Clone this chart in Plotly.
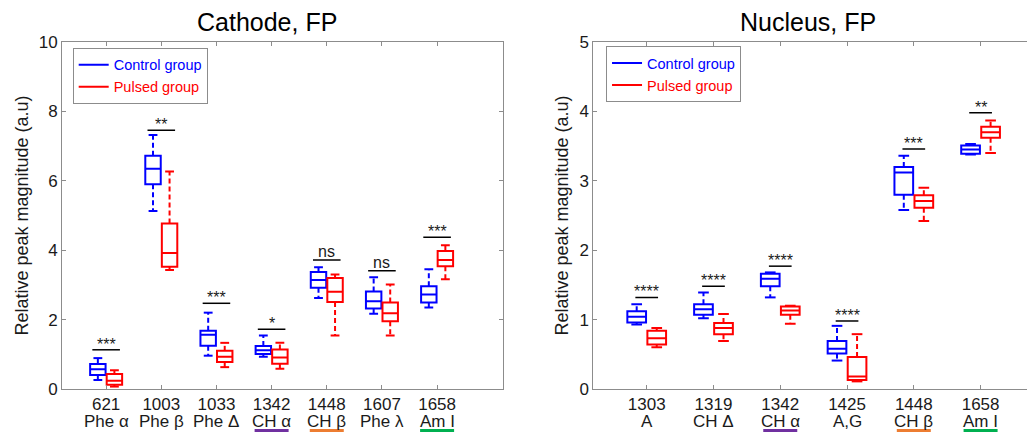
import plotly.graph_objects as go

# ---------------- data ----------------
# Cathode, FP
cat_num = ["621", "1003", "1033", "1342", "1448", "1607", "1658"]
cat_name = ["Phe α", "Phe β", "Phe Δ", "CH α", "CH β", "Phe λ", "Am I"]
cat_ctrl_lo = [0.26, 5.13, 0.96, 0.93, 2.62, 2.17, 2.35]
cat_ctrl_q1 = [0.40, 5.90, 1.25, 1.01, 2.92, 2.32, 2.49]
cat_ctrl_med = [0.57, 6.35, 1.56, 1.12, 3.14, 2.53, 2.72]
cat_ctrl_q3 = [0.72, 6.72, 1.68, 1.24, 3.37, 2.81, 2.96]
cat_ctrl_hi = [0.89, 7.32, 2.20, 1.54, 3.51, 3.22, 3.45]
cat_puls_lo = [0.07, 3.43, 0.63, 0.58, 1.54, 1.54, 3.16]
cat_puls_q1 = [0.12, 3.52, 0.78, 0.73, 2.51, 1.95, 3.54]
cat_puls_med = [0.24, 3.92, 0.93, 0.91, 2.80, 2.18, 3.72]
cat_puls_q3 = [0.43, 4.77, 1.10, 1.14, 3.20, 2.49, 3.98]
cat_puls_hi = [0.54, 6.27, 1.33, 1.33, 3.30, 3.01, 4.14]
cat_sig = ["***", "**", "***", "*", "ns", "ns", "***"]
cat_sig_y = [1.13, 7.46, 2.47, 1.72, 3.72, 3.41, 4.37]
cat_mark = [None, None, None, "#7030A0", "#ED7D31", None, "#00B050"]

# Nucleus, FP
nuc_num = ["1303", "1319", "1342", "1425", "1448", "1658"]
nuc_name = ["A", "CH Δ", "CH α", "A,G", "CH β", "Am I"]
nuc_ctrl_lo = [0.93, 1.02, 1.32, 0.41, 2.58, 3.38]
nuc_ctrl_q1 = [0.96, 1.07, 1.48, 0.51, 2.80, 3.39]
nuc_ctrl_med = [1.04, 1.15, 1.59, 0.58, 3.12, 3.45]
nuc_ctrl_q3 = [1.12, 1.22, 1.66, 0.69, 3.20, 3.51]
nuc_ctrl_hi = [1.22, 1.39, 1.68, 0.91, 3.36, 3.53]
nuc_puls_lo = [0.60, 0.69, 0.94, 0.11, 2.42, 3.40]
nuc_puls_q1 = [0.64, 0.79, 1.07, 0.13, 2.61, 3.62]
nuc_puls_med = [0.73, 0.88, 1.13, 0.18, 2.71, 3.70]
nuc_puls_q3 = [0.84, 0.95, 1.19, 0.46, 2.79, 3.78]
nuc_puls_hi = [0.88, 1.08, 1.20, 0.79, 2.90, 3.87]
nuc_sig = ["****", "****", "****", "****", "***", "**"]
nuc_sig_y = [1.32, 1.48, 1.77, 0.98, 3.46, 3.98]
nuc_mark = [None, None, "#7030A0", None, "#ED7D31", "#00B050"]

titles = ["Cathode, FP", "Nucleus, FP"]
ytitle = "Relative peak magnitude (a.u)"
groups = ["Control group", "Pulsed group"]
colors = ["#0000FF", "#FF0000"]

# ---------------- style ----------------
FONT = "Liberation Sans, Arial, sans-serif"
AX = "#8c8c8c"
TXT = "#1a1a1a"
OFF = 0.15
BOXW = 0.28
CAPW = 0.08

fig = go.Figure()
# page body has an 8px margin; size the figure so it fits the 1035x433 window
fig.update_layout(
    width=1027, height=425,
    margin=dict(l=54, r=1, t=34, b=44),
    paper_bgcolor="white", plot_bgcolor="white",
    font=dict(family=FONT, size=17, color=TXT),
    showlegend=True,
    boxmode="overlay",
)

panels = [
    dict(xa="x", ya="y", num=cat_num, name=cat_name, mark=cat_mark,
         data=[(cat_ctrl_lo, cat_ctrl_q1, cat_ctrl_med, cat_ctrl_q3, cat_ctrl_hi),
               (cat_puls_lo, cat_puls_q1, cat_puls_med, cat_puls_q3, cat_puls_hi)],
         sig=cat_sig, sig_y=cat_sig_y, sighalf=0.25, legend="legend"),
    dict(xa="x2", ya="y2", num=nuc_num, name=nuc_name, mark=nuc_mark,
         data=[(nuc_ctrl_lo, nuc_ctrl_q1, nuc_ctrl_med, nuc_ctrl_q3, nuc_ctrl_hi),
               (nuc_puls_lo, nuc_puls_q1, nuc_puls_med, nuc_puls_q3, nuc_puls_hi)],
         sig=nuc_sig, sig_y=nuc_sig_y, sighalf=0.17, legend="legend2"),
]

annotations = []
shapes = []
for pi, p in enumerate(panels):
    n = len(p["num"])
    pos = list(range(1, n + 1))
    for gi, (lo, q1, med, q3, hi) in enumerate(p["data"]):
        sgn = -1 if gi == 0 else 1
        xs = [v + sgn * OFF for v in pos]
        col = colors[gi]
        fig.add_trace(go.Box(
            x=xs, q1=q1, median=med, q3=q3, lowerfence=q1, upperfence=q3,
            width=BOXW, whiskerwidth=0, boxpoints=False,
            line=dict(color=col, width=2), fillcolor="rgba(0,0,0,0)",
            xaxis=p["xa"], yaxis=p["ya"], showlegend=False, hoverinfo="skip"))
        wx, wy, cx, cy = [], [], [], []
        for i in range(n):
            wx += [xs[i], xs[i], None, xs[i], xs[i], None]
            wy += [q3[i], hi[i], None, q1[i], lo[i], None]
            cx += [xs[i] - CAPW, xs[i] + CAPW, None, xs[i] - CAPW, xs[i] + CAPW, None]
            cy += [hi[i], hi[i], None, lo[i], lo[i], None]
        fig.add_trace(go.Scatter(x=wx, y=wy, mode="lines",
                                 line=dict(color=col, width=2, dash="5px,3px"),
                                 xaxis=p["xa"], yaxis=p["ya"], showlegend=False, hoverinfo="skip"))
        fig.add_trace(go.Scatter(x=cx, y=cy, mode="lines",
                                 line=dict(color=col, width=2),
                                 xaxis=p["xa"], yaxis=p["ya"], showlegend=False, hoverinfo="skip"))
        # legend entry
        fig.add_trace(go.Scatter(x=[None], y=[None], mode="lines",
                                 line=dict(color=col, width=2),
                                 name=f"<span style='color:{col}'>{groups[gi]}</span>",
                                 legend=p["legend"], xaxis=p["xa"], yaxis=p["ya"]))
    # significance bars
    sx, sy = [], []
    h = p["sighalf"]
    for i in range(n):
        sx += [pos[i] - h, pos[i] + h, None]
        sy += [p["sig_y"][i], p["sig_y"][i], None]
        annotations.append(dict(x=pos[i], y=p["sig_y"][i], xref=p["xa"], yref=p["ya"],
                                text=p["sig"][i], showarrow=False, yanchor="bottom",
                                yshift=(-5 if "*" in p["sig"][i] else -2),
                                font=dict(size=16, color=TXT)))
        annotations.append(dict(x=pos[i], y=0, xref=p["xa"], yref=p["ya"] + " domain",
                                text=p["name"][i], showarrow=False, yanchor="middle",
                                yshift=-32, font=dict(size=17, color=TXT)))
        if p["mark"][i]:
            shapes.append(dict(type="rect", xref=p["xa"], yref=p["ya"] + " domain",
                               xsizemode="pixel", ysizemode="pixel",
                               xanchor=pos[i], yanchor=0,
                               x0=-17, x1=17, y0=-43, y1=-40,
                               fillcolor=p["mark"][i], line=dict(width=0)))
    fig.add_trace(go.Scatter(x=sx, y=sy, mode="lines", line=dict(color="black", width=1.5),
                             xaxis=p["xa"], yaxis=p["ya"], showlegend=False, hoverinfo="skip"))

axis_common = dict(showgrid=False, zeroline=False, showline=True, linecolor=AX, linewidth=1,
                   mirror="ticks", ticks="inside", ticklen=4, tickcolor=AX,
                   tickfont=dict(size=17, color=TXT))
fig.update_layout(
    xaxis=dict(domain=[0, 0.454], range=[0.2, 8.2], tickvals=list(range(1, 8)),
               ticktext=cat_num, anchor="y", **axis_common),
    yaxis=dict(domain=[0, 1], range=[0, 10], dtick=2, anchor="x",
               title=dict(text=ytitle, font=dict(size=18, color=TXT), standoff=5),
               **axis_common),
    xaxis2=dict(domain=[0.5466, 1], range=[0.2, 6.8], tickvals=list(range(1, 7)),
                ticktext=nuc_num, anchor="y2", **axis_common),
    yaxis2=dict(domain=[0, 1], range=[0, 5], dtick=1, anchor="x2",
                title=dict(text=ytitle, font=dict(size=18, color=TXT), standoff=6),
                **axis_common),
    legend=dict(x=0.011, y=0.983, xanchor="left", yanchor="top", bgcolor="white",
                bordercolor=AX, borderwidth=1, font=dict(size=14.5), tracegroupgap=0),
    legend2=dict(x=0.5597, y=0.988, xanchor="left", yanchor="top", bgcolor="white",
                 bordercolor=AX, borderwidth=1, font=dict(size=14.5), tracegroupgap=0),
)

annotations.append(dict(x=0.211, y=1.057, xref="paper", yref="paper", text=titles[0],
                        showarrow=False, xanchor="center", yanchor="middle",
                        font=dict(size=25, color="black")))
annotations.append(dict(x=0.7675, y=1.057, xref="paper", yref="paper", text=titles[1],
                        showarrow=False, xanchor="center", yanchor="middle",
                        font=dict(size=25, color="black")))
fig.update_layout(annotations=annotations, shapes=shapes)

fig.write_html("out.html")
